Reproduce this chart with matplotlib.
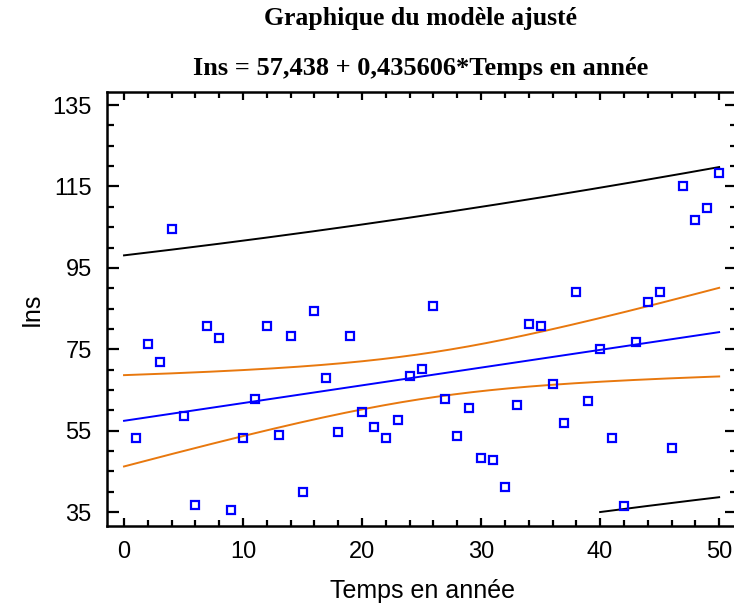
import numpy as np
import matplotlib
matplotlib.use("Agg")
import matplotlib.pyplot as plt
from matplotlib.ticker import MultipleLocator

# ---- data ----
temps = list(range(1, 51))
ins = [53.2, 76.3, 71.8, 104.6, 58.5, 36.7, 80.8, 77.8, 35.5, 53.1,
       62.7, 80.8, 54.0, 78.3, 40.0, 84.5, 68.0, 54.8, 78.3, 59.7,
       56.0, 53.2, 57.7, 68.4, 70.1, 85.7, 62.7, 53.6, 60.5, 48.3,
       47.9, 41.3, 61.4, 81.2, 80.8, 66.4, 56.9, 89.1, 62.3, 75.0,
       53.2, 36.4, 76.7, 86.5, 89.1, 50.7, 115.0, 106.8, 109.6, 118.3]
intercept = 57.438
slope = 0.435606
t_crit = 2.0106  # Student t, 95 %, 48 dof
y_ticks = [35, 55, 75, 95, 115, 135]
x_ticks = [0, 10, 20, 30, 40, 50]

title1 = "Graphique du modèle ajusté"
title2 = "Ins = 57,438 + 0,435606*Temps en année"
xlabel = "Temps en année"
ylabel = "Ins"

# ---- regression bands ----
x = np.array(temps, float)
y = np.array(ins, float)
n = len(x)
res = y - (intercept + slope * x)
s = np.sqrt(np.sum(res ** 2) / (n - 2))
xbar = x.mean()
sxx = np.sum((x - xbar) ** 2)
g = np.linspace(0, 50, 501)
fit = intercept + slope * g
h = 1.0 / n + (g - xbar) ** 2 / sxx
ci = t_crit * s * np.sqrt(h)
pi = t_crit * s * np.sqrt(1 + h)

ymin_draw = 35
def clip(a):
    a = a.copy()
    a[a < ymin_draw] = np.nan
    return a

fig = plt.figure(figsize=(7.34, 6.06), dpi=100)
ax = fig.add_axes([107 / 734, 1 - 526 / 606, 630 / 734, (526 - 92) / 606])

orange = "#E8780E"
ax.plot(g, clip(fit + pi), color="black", lw=1.4)
ax.plot(g, clip(fit - pi), color="black", lw=1.4)
ax.plot(g, clip(fit + ci), color=orange, lw=1.4)
ax.plot(g, clip(fit - ci), color=orange, lw=1.4)
ax.plot(g, fit, color="#0000FF", lw=1.4)
ax.plot(x, y, linestyle="none", marker="s", ms=6.2, mfc="none",
        mec="#0000FF", mew=1.6)

ax.set_xlim(-1.43, 51.5)
ax.set_ylim(31.6, 138.2)
ax.set_xticks(x_ticks)
ax.set_yticks(y_ticks)
ax.xaxis.set_minor_locator(MultipleLocator(2))
ax.yaxis.set_minor_locator(MultipleLocator(5))
ax.tick_params(axis="both", which="both", direction="in", top=True, right=True,
               width=1.6, labelsize=17)
ax.tick_params(axis="x", which="major", length=6, pad=11)
ax.tick_params(axis="x", which="minor", length=4)
ax.tick_params(axis="y", which="major", length=8.5, pad=11)
ax.tick_params(axis="y", which="minor", length=5)
for lab in ax.get_xticklabels() + ax.get_yticklabels():
    lab.set_family("Liberation Sans")
for sp in ax.spines.values():
    sp.set_linewidth(1.8)
ax.spines["right"].set_visible(False)

ax.set_xlabel(xlabel, fontsize=18, family="Liberation Sans", labelpad=11)
ax.set_ylabel(ylabel, fontsize=18, family="Liberation Sans", labelpad=6)

cx = (107 + 734) / 2 / 734
fig.text(cx, 1 - 19 / 606, title1, ha="center", va="center",
         fontsize=18.5, fontweight="bold", family="Liberation Serif")
fig.text(cx, 1 - 68 / 606, title2, ha="center", va="center",
         fontsize=19, fontweight="bold", family="Liberation Serif")

fig.savefig("out.png", dpi=100)
